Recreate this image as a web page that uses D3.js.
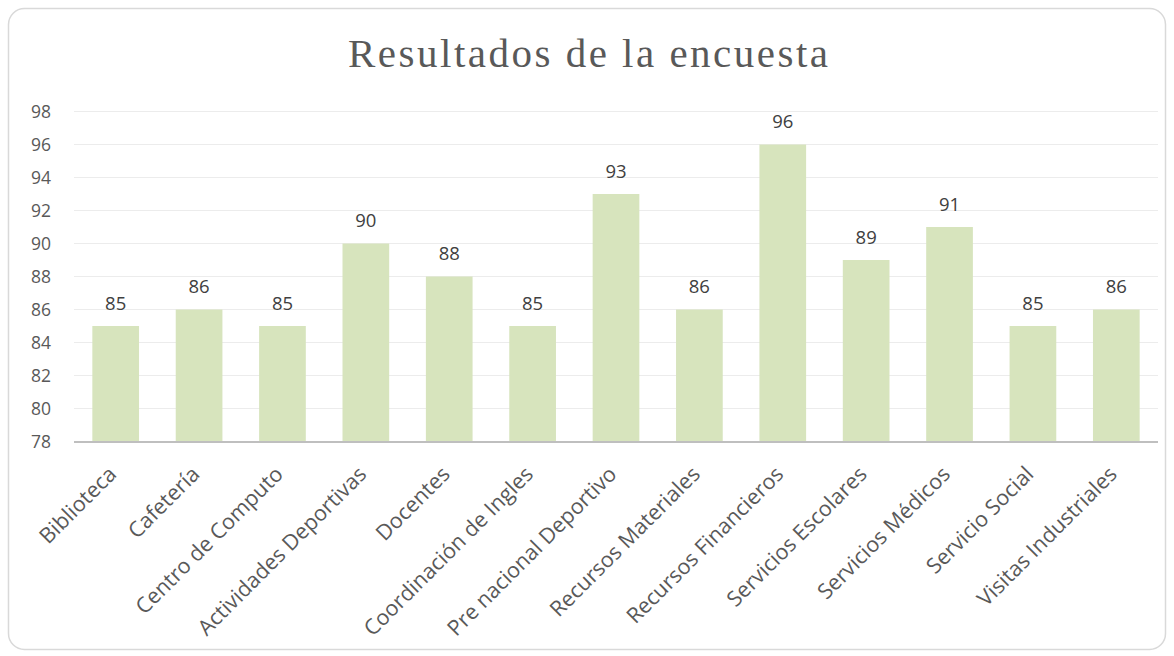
<!DOCTYPE html>
<html><head><meta charset="utf-8">
<script src="https://cdn.jsdelivr.net/npm/d3@7"></script>
<style>body{margin:0;background:#fff}</style>
</head><body>
<svg id="c" width="1174" height="656"></svg>
<script>
const categories = ["Biblioteca","Cafetería","Centro de Computo","Actividades Deportivas","Docentes","Coordinación de Ingles","Pre nacional Deportivo","Recursos Materiales","Recursos Financieros","Servicios Escolares","Servicios Médicos","Servicio Social","Visitas Industriales"];
const values = [85,86,85,90,88,85,93,86,96,89,91,85,86];
const yTicks = [78,80,82,84,86,88,90,92,94,96,98];
const title = "Resultados de la encuesta";

const svg = d3.select("#c");
svg.append("rect").attr("x",8.5).attr("y",8.5).attr("width",1157).attr("height",641)
  .attr("rx",16).attr("fill","#fff").attr("stroke","#d9d9d9").attr("stroke-width",1.5);

const pLeft=74, pRight=1158, pTop=111.5, pBottom=441.5;
const x = d3.scaleBand().domain(categories).range([pLeft,pRight]).paddingInner(0.44).paddingOuter(0.22);
const y = d3.scaleLinear().domain([78,98]).range([pBottom,pTop]);

svg.append("text").attr("x",588).attr("y",67).attr("text-anchor","middle")
  .attr("font-family","Liberation Serif, serif").attr("font-size",41).attr("fill","#595959")
  .attr("textLength",480).attr("lengthAdjust","spacing").text(title);

const g = svg.append("g");
g.selectAll("line.grid").data(yTicks.slice(1)).join("line").attr("class","grid")
  .attr("x1",pLeft).attr("x2",pRight).attr("y1",d=>y(d)).attr("y2",d=>y(d))
  .attr("stroke","#ececec").attr("stroke-width",1.2);

const yAxis = d3.axisLeft(y).tickValues(yTicks).tickSize(0).tickPadding(0);
const ya = svg.append("g").attr("transform",`translate(51,0)`).call(yAxis);
ya.select(".domain").remove();
ya.selectAll("text").attr("font-family","Open Sans, sans-serif").attr("font-size",17.5).attr("fill","#595959").attr("dy","0.35em");

g.selectAll("rect.bar").data(values).join("rect").attr("class","bar")
  .attr("x",(d,i)=>x(categories[i])).attr("width",x.bandwidth())
  .attr("y",d=>y(d)).attr("height",d=>pBottom-y(d)).attr("fill","#d7e4bd");

g.selectAll("text.lbl").data(values).join("text").attr("class","lbl")
  .attr("x",(d,i)=>x(categories[i])+x.bandwidth()/2).attr("y",d=>y(d)-16.5)
  .attr("text-anchor","middle").attr("font-family","Open Sans, sans-serif").attr("font-size",18.5)
  .attr("fill","#404040").text(d=>d);

svg.append("line").attr("x1",pLeft).attr("x2",pRight).attr("y1",pBottom+0.5).attr("y2",pBottom+0.5)
  .attr("stroke","#bfbfbf").attr("stroke-width",2);

const xAxis = d3.axisBottom(x).tickSize(0).tickPadding(0);
const xa = svg.append("g").attr("transform",`translate(0,${pBottom})`).call(xAxis);
xa.select(".domain").remove();
xa.selectAll("text").attr("font-family","Open Sans, sans-serif").attr("font-size",21.5).attr("fill","#595959")
  .attr("text-anchor","end").attr("y",0).attr("dy",0)
  .attr("transform","translate(2,34) rotate(-45)");
</script>
</body></html>
